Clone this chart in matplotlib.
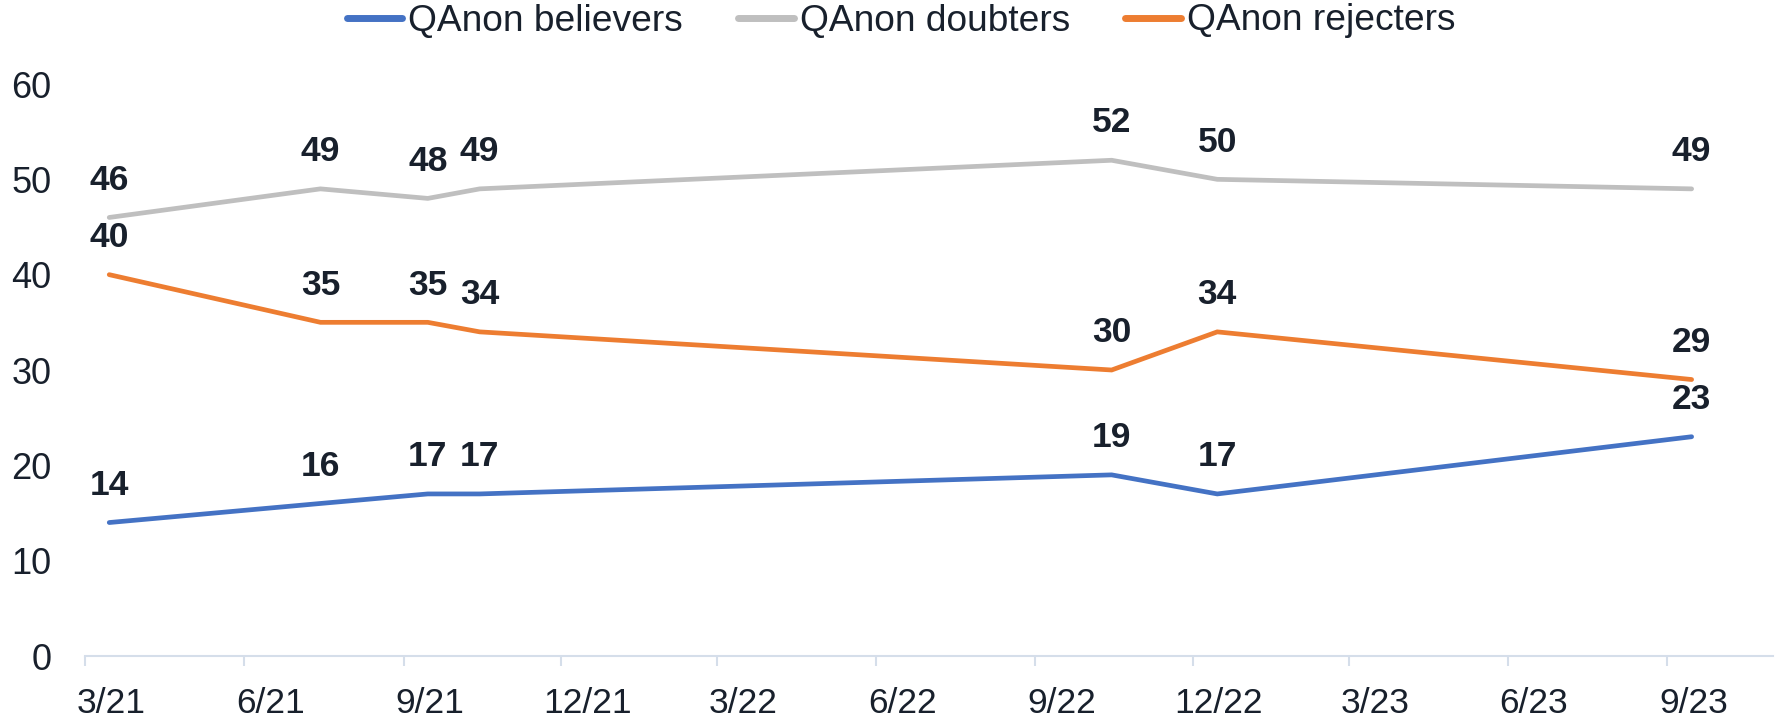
import matplotlib
matplotlib.use("Agg")
import matplotlib.pyplot as plt
import matplotlib.dates as mdates
import datetime as dt

# ---- data ----
survey_dates = ["2021-03-15", "2021-07-15", "2021-09-15", "2021-10-15",
                "2022-10-15", "2022-12-15", "2023-09-15"]
believers = [14, 16, 17, 17, 19, 17, 23]
doubters = [46, 49, 48, 49, 52, 50, 49]
rejecters = [40, 35, 35, 34, 30, 34, 29]
series_names = ["QAnon believers", "QAnon doubters", "QAnon rejecters"]
tick_dates = ["2021-03-01", "2021-06-01", "2021-09-01", "2021-12-01", "2022-03-01",
              "2022-06-01", "2022-09-01", "2022-12-01", "2023-03-01", "2023-06-01",
              "2023-09-01"]
label_dates = ["2021-03-16", "2021-06-16", "2021-09-16", "2021-12-16", "2022-03-16",
               "2022-06-16", "2022-09-16", "2022-12-16", "2023-03-16", "2023-06-16",
               "2023-09-16"]
tick_labels = ["3/21", "6/21", "9/21", "12/21", "3/22", "6/22", "9/22",
               "12/22", "3/23", "6/23", "9/23"]
y_ticks = [0, 10, 20, 30, 40, 50, 60]

colors = ["#4472C4", "#BFBFBF", "#ED7D31"]
text_color = "#18202C"
axis_color = "#D5DEEA"

plt.rcParams["font.family"] = ["Liberation Sans", "DejaVu Sans"]


def to_num(dates):
    return mdates.date2num([dt.datetime.strptime(d, "%Y-%m-%d") for d in dates])


W, H = 1779, 719
fig = plt.figure(figsize=(W / 100, H / 100), dpi=100)
ax = fig.add_axes([85 / W, 1 - 656 / H, (1773 - 85) / W, (656 - 84) / H])

x = to_num(survey_dates)

for vals, c, name in zip([believers, doubters, rejecters], colors, series_names):
    ax.plot(x, vals, color=c, lw=3.4, solid_capstyle="round",
            solid_joinstyle="miter", label=name, zorder=3)
    for xi, v in zip(x, vals):
        ax.annotate(str(v), (xi, v), xytext=(0, 20), textcoords="offset points",
                    ha="center", va="baseline", fontsize=25.5, fontweight="bold",
                    color=text_color, zorder=4)

ax.set_xlim(mdates.date2num(dt.datetime(2021, 3, 1)),
            mdates.date2num(dt.datetime(2023, 11, 1)))
ax.set_ylim(0, 60)
ax.set_yticks(y_ticks)
ax.set_yticklabels([str(v) for v in y_ticks])

# major ticks at month boundaries (marks only), labels centered in the month
ax.set_xticks(to_num(tick_dates))
ax.set_xticklabels([""] * len(tick_dates))
ax.set_xticks(to_num(label_dates), minor=True)
ax.set_xticklabels(tick_labels, minor=True)

for s in ["top", "right", "left"]:
    ax.spines[s].set_visible(False)
ax.spines["bottom"].set_color(axis_color)
ax.spines["bottom"].set_linewidth(1.5)

ax.tick_params(axis="x", which="major", length=7.5, width=1.5, color=axis_color)
ax.tick_params(axis="x", which="minor", length=0, pad=22,
               labelsize=25.5, labelcolor=text_color)
ax.tick_params(axis="y", length=0, pad=24, labelsize=26, labelcolor=text_color)

leg = fig.legend(loc="center", bbox_to_anchor=(901 / W, 1 - 21 / H), ncol=3,
                 frameon=False, fontsize=26.7, handlelength=1.5, handletextpad=0.15,
                 columnspacing=1.5, labelcolor=text_color)
for l in leg.get_lines():
    l.set_linewidth(5)

fig.savefig("out.png", dpi=100)
